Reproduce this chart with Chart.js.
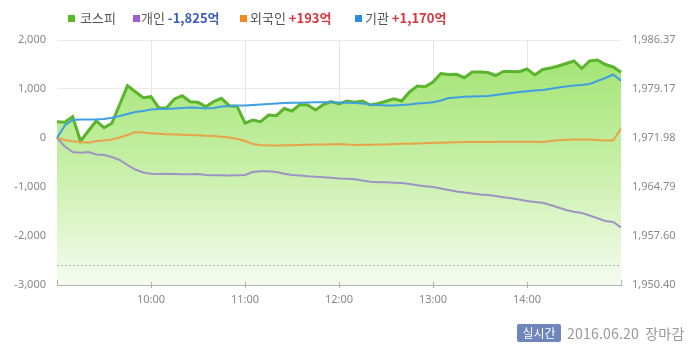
<!DOCTYPE html>
<html><head><meta charset="utf-8">
<script src="https://cdn.jsdelivr.net/npm/chart.js@4.4.1/dist/chart.umd.min.js"></script>
<style>
html,body{margin:0;padding:0;background:#fff;}
body{width:700px;height:356px;overflow:hidden;position:relative;font-family:"Noto Sans CJK KR","Noto Sans",sans-serif;}
#c{position:absolute;left:0;top:0;}
.lg{position:absolute;top:9px;font-size:13px;line-height:18px;color:#555;white-space:nowrap;}
.sq{position:absolute;top:15px;width:7px;height:7px;}
.neg{color:#3b5db8;font-weight:bold;}
.pos{color:#d8343c;font-weight:bold;}
#badge{position:absolute;left:517px;top:324px;width:44px;height:18px;background:#6e86ba;color:#fff;font-size:12px;line-height:18px;text-align:center;border-radius:2px;}
#date{position:absolute;left:567px;top:323px;font-size:14px;line-height:20px;color:#999;white-space:nowrap;word-spacing:3px;letter-spacing:0.2px;}
</style>
</head><body>
<canvas id="c" width="700" height="356"></canvas>
<div class="sq" style="left:68px;background:#5ab82b"></div><div class="lg" style="left:80px">코스피</div>
<div class="sq" style="left:133px;background:#9b5fd0"></div><div class="lg" style="left:141px">개인 <span class="neg">-1,825억</span></div>
<div class="sq" style="left:240px;background:#f08a1c"></div><div class="lg" style="left:250px">외국인 <span class="pos">+193억</span></div>
<div class="sq" style="left:355px;background:#2a8fe0"></div><div class="lg" style="left:365px">기관 <span class="pos">+1,170억</span></div>
<div id="badge">실시간</div>
<div id="date">2016.06.20 장마감</div>
<script>
const times = ["09:00","09:05","09:10","09:15","09:20","09:25","09:30","09:35","09:40","09:45","09:50","09:55",
"10:00","10:05","10:10","10:15","10:20","10:25","10:30","10:35","10:40","10:45","10:50","10:55",
"11:00","11:05","11:10","11:15","11:20","11:25","11:30","11:35","11:40","11:45","11:50","11:55",
"12:00","12:05","12:10","12:15","12:20","12:25","12:30","12:35","12:40","12:45","12:50","12:55",
"13:00","13:05","13:10","13:15","13:20","13:25","13:30","13:35","13:40","13:45","13:50","13:55",
"14:00","14:05","14:10","14:15","14:20","14:25","14:30","14:35","14:40","14:45","14:50","14:55","15:00"];

const kospi = [1974.38,1974.29,1975.11,1971.54,1973.01,1974.48,1973.49,1974.14,1976.90,1979.66,1978.78,1977.90,
1978.05,1976.39,1976.43,1977.71,1978.19,1977.31,1977.22,1976.58,1977.34,1977.81,1976.72,1976.61,
1974.18,1974.62,1974.38,1975.36,1975.26,1976.31,1975.95,1976.90,1976.83,1976.09,1976.90,1977.34,
1976.97,1977.41,1977.22,1977.41,1976.83,1977.05,1977.37,1977.74,1977.41,1978.74,1979.62,1979.51,
1980.20,1981.45,1981.31,1981.33,1980.83,1981.67,1981.67,1981.60,1981.16,1981.75,1981.75,1981.72,
1982.11,1981.23,1982.04,1982.26,1982.55,1982.92,1983.29,1982.19,1983.29,1983.43,1982.77,1982.41,1981.63];

const individual = [0,-173,-286,-302,-286,-337,-347,-388,-449,-551,-643,-704,
-731,-735,-731,-735,-741,-741,-735,-756,-759,-762,-766,-762,
-756,-694,-680,-678,-694,-731,-756,-766,-780,-790,-800,-813,
-827,-833,-841,-867,-894,-902,-904,-912,-918,-939,-965,-986,
-1000,-1031,-1061,-1092,-1112,-1133,-1153,-1163,-1184,-1208,-1229,-1255,
-1286,-1306,-1323,-1367,-1418,-1470,-1506,-1531,-1582,-1637,-1694,-1714,-1825];

const foreign = [0,-41,-65,-82,-98,-61,-51,-31,10,61,122,112,
96,86,78,71,65,61,55,45,39,24,10,-20,
-61,-122,-143,-153,-153,-149,-147,-143,-139,-133,-133,-129,
-122,-133,-143,-139,-137,-133,-133,-122,-118,-118,-112,-106,
-98,-96,-92,-88,-84,-82,-78,-82,-80,-78,-78,-78,
-78,-78,-82,-61,-45,-37,-31,-31,-31,-41,-51,-51,193];

const institution = [0,255,367,378,378,378,388,412,449,490,531,551,
582,592,592,602,612,622,616,602,612,643,653,663,
663,673,684,694,704,714,718,718,725,731,731,731,
725,718,714,704,684,673,663,663,673,684,704,714,
731,765,816,827,841,847,853,857,878,898,918,939,
955,969,980,1004,1031,1051,1072,1082,1102,1163,1225,1296,1170];

const leftTicks = [-3000,-2000,-1000,0,1000,2000];
const rightTicks = [1950.40,1957.60,1964.79,1971.98,1979.17,1986.37];
const prevClose = 1953.40;

function isHour(i){ const t = times[i]; return t && t.endsWith(':00') && i !== 0 && i !== times.length-1; }

const prevClosePlugin = {
  id:'prevClose',
  afterDatasetsDraw(chart){
    const {ctx, chartArea} = chart;
    const y = chart.scales.y1.getPixelForValue(prevClose);
    ctx.save();
    ctx.strokeStyle = '#b0b0b0';
    ctx.lineWidth = 1;
    ctx.setLineDash([2,2]);
    ctx.beginPath();
    ctx.moveTo(chartArea.left, Math.round(y)+0.5);
    ctx.lineTo(chartArea.right, Math.round(y)+0.5);
    ctx.stroke();
    ctx.restore();
  },
  afterDraw(chart){
    const {ctx, chartArea} = chart;
    const xs = chart.scales.x;
    ctx.save();
    ctx.strokeStyle = '#b0b0b0';
    ctx.lineWidth = 1;
    ctx.beginPath();
    times.forEach((t,i)=>{
      const x = Math.round(xs.getPixelForValue(i))+0.5;
      if (isHour(i)) { ctx.moveTo(x, chartArea.bottom-3); ctx.lineTo(x, chartArea.bottom+3); }
      else if (i===0 || i===times.length-1) { ctx.moveTo(x, chartArea.bottom-5); ctx.lineTo(x, chartArea.bottom); }
    });
    ctx.stroke();
    ctx.restore();
  }
};

const tickFont = {family:'"Noto Sans","Liberation Sans",sans-serif', size:11};

new Chart(document.getElementById('c'), {
  type:'line',
  data:{
    labels: times,
    datasets:[
      {label:'기관', data:institution, yAxisID:'y', borderColor:'#3f9fe0', borderWidth:2, pointRadius:0, fill:false, tension:0, order:1},
      {label:'외국인', data:foreign, yAxisID:'y', borderColor:'#e8a34a', borderWidth:2, pointRadius:0, fill:false, tension:0, order:2},
      {label:'개인', data:individual, yAxisID:'y', borderColor:'#9f93c2', borderWidth:2, pointRadius:0, fill:false, tension:0, order:3},
      {label:'코스피', data:kospi, yAxisID:'y1', borderColor:'#5ab52c', borderWidth:3, pointRadius:0, tension:0, order:4,
       fill:'start',
       backgroundColor:(c)=>{
         const ca = c.chart.chartArea;
         if (!ca) return 'rgba(160,225,110,0.6)';
         const g = c.chart.ctx.createLinearGradient(0, ca.top, 0, ca.bottom);
         g.addColorStop(0, '#9ee26c');
         g.addColorStop(0.5, '#c6efa6');
         g.addColorStop(1, '#f5fcef');
         return g;
       }}
    ]
  },
  options:{
    responsive:false, animation:false, devicePixelRatio:1,
    layout:{padding:{top:40, left:0, right:0, bottom:0}},
    plugins:{legend:{display:false}, tooltip:{enabled:false}},
    scales:{
      x:{
        type:'category',
        offset:false,
        grid:{color:(c)=> isHour(c.index) ? '#e4e4e4' : 'rgba(0,0,0,0)', drawTicks:false},
        border:{display:true, color:'#b0b0b0'},
        ticks:{autoSkip:false, maxRotation:0, minRotation:0, padding:8, color:'#888', font:tickFont,
               callback:(v,i)=> isHour(i) ? times[i] : ''},
        afterFit:(s)=>{ s.height = 71; }
      },
      y:{
        position:'left', min:-3000, max:2000,
        afterBuildTicks:(s)=>{ s.ticks = leftTicks.map(v=>({value:v})); },
        grid:{color:'#ebebeb', drawTicks:false},
        border:{display:false},
        ticks:{padding:11, color:'#888', font:tickFont, callback:(v)=> v.toLocaleString('en-US')},
        afterFit:(s)=>{ s.width = 57; }
      },
      y1:{
        position:'right', min:1950.40, max:1986.37,
        afterBuildTicks:(s)=>{ s.ticks = rightTicks.map(v=>({value:v})); },
        grid:{drawOnChartArea:false, drawTicks:false},
        border:{display:false},
        ticks:{padding:11, color:'#888', font:tickFont,
               callback:(v)=> Number(v).toLocaleString('en-US',{minimumFractionDigits:2, maximumFractionDigits:2})},
        afterFit:(s)=>{ s.width = 79; }
      }
    }
  },
  plugins:[prevClosePlugin]
});
</script>
</body></html>
